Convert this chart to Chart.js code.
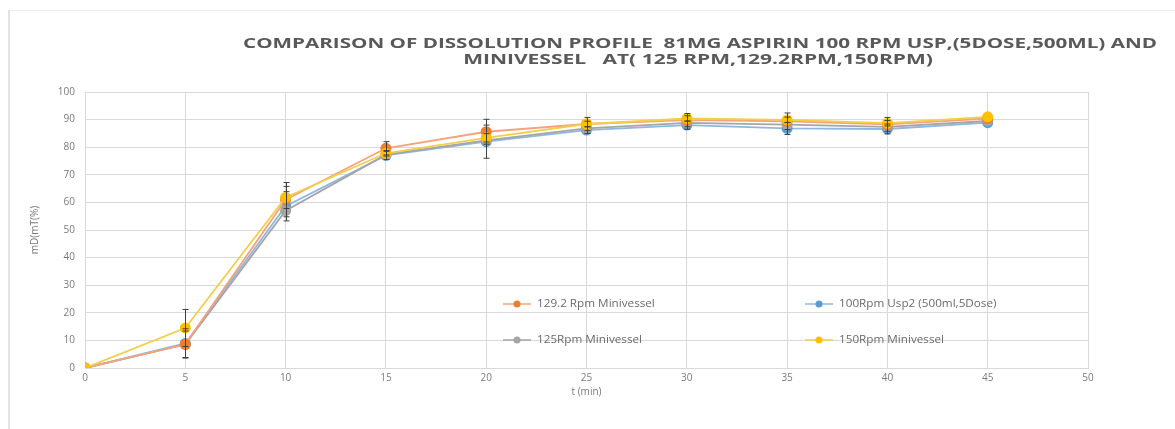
<!DOCTYPE html>
<html>
<head>
<meta charset="utf-8">
<script src="https://cdn.jsdelivr.net/npm/chart.js@4.4.1/dist/chart.umd.min.js"></script>
<style>
  html, body { margin: 0; padding: 0; background: #fff; }
  #wrap { position: relative; width: 1175px; height: 429px; }
  #frame { position: absolute; left: 8px; top: 10px; right: 0; bottom: 0; border-left: 2px solid #e3e3e3; border-top: 1px solid #ececec; }
</style>
</head>
<body>
<div id="wrap">
  <div id="frame"></div>
  <canvas id="myChart" width="1175" height="429" style="position:absolute;left:0;top:0"></canvas>
</div>
<script>
// time points (min)
var times = [0, 5, 10, 15, 20, 25, 30, 35, 40, 45];

// % dissolved for each run
var rpm129 = [0, 8.6, 61, 79.6, 85.6, 88.4, 89.8, 89.4, 88.3, 90.4];
var usp100 = [0, 8.9, 58.6, 77, 82, 86.2, 88, 86.8, 86.6, 88.9];
var rpm125 = [0, 8.5, 57, 77.3, 82.5, 86.8, 88.8, 88.2, 87.4, 89.5];
var rpm150 = [0, 14.5, 61.8, 77.8, 83.4, 88.4, 90.4, 89.9, 88.7, 91];

// standard deviations (error bars)
var rpm129Err = [0, 4.8, 6.2, 2.4, 4.5, 2.4, 2.4, 3, 2.5, 0];
var usp100Err = [0, 5.3, 5.3, 1.5, 6, 1.2, 1.5, 2.2, 1.8, 0];
var rpm150Err = [0, 6.7, 4, 1, 1.5, 1, 1, 1, 1, 0];

var titleLines = ['COMPARISON OF DISSOLUTION PROFILE  81MG ASPIRIN 100 RPM USP,(5DOSE,500ML) AND',
                  'MINIVESSEL   AT( 125 RPM,129.2RPM,150RPM)'];
var xTitle = 't (min)';
var yTitle = 'mD(mT(%)';

function pts(vals) {
  return vals.map(function (v, i) { return { x: times[i], y: v }; });
}

// error bars drawn with the chart's own scales
var errorBars = {
  id: 'errorBars',
  afterDatasetsDraw: function (chart) {
    var ctx = chart.ctx, xs = chart.scales.x, ys = chart.scales.y;
    ctx.save();
    ctx.strokeStyle = '#404040';
    ctx.lineWidth = 1;
    chart.data.datasets.forEach(function (ds) {
      if (!ds.errors) return;
      ds.data.forEach(function (p, i) {
        var e = ds.errors[i];
        if (!e) return;
        var px = Math.round(xs.getPixelForValue(p.x)) + 0.5;
        var top = ys.getPixelForValue(p.y + e), bot = ys.getPixelForValue(p.y - e);
        ctx.beginPath();
        ctx.moveTo(px, top); ctx.lineTo(px, bot);
        ctx.moveTo(px - 3, top); ctx.lineTo(px + 3, top);
        ctx.moveTo(px - 3, bot); ctx.lineTo(px + 3, bot);
        ctx.stroke();
      });
    });
    ctx.restore();
  }
};

// wide-looking text, as in the stretched original
function wideText(ctx, txt, x, y, sx) {
  ctx.save();
  ctx.translate(x, y);
  ctx.scale(sx, 1);
  ctx.fillText(txt, 0, 0);
  ctx.restore();
}

// title + legend inside the plot, drawn like the spreadsheet original
var extras = {
  id: 'extras',
  afterDraw: function (chart) {
    var ctx = chart.ctx;
    ctx.save();
    ctx.fillStyle = '#595959';
    ctx.font = 'bold 15px "Open Sans"';
    ctx.textAlign = 'center';
    ctx.textBaseline = 'middle';
    wideText(ctx, titleLines[0], 700, 44, 1.375);
    wideText(ctx, titleLines[1], 698, 60, 1.4);

    var spots = [[503, 304], [805, 304], [503, 340], [805, 340]];
    ctx.font = '10px "Open Sans"';
    ctx.textAlign = 'left';
    chart.data.datasets.forEach(function (ds, k) {
      var x = spots[k][0], y = spots[k][1];
      ctx.strokeStyle = ds.borderColor;
      ctx.lineWidth = 1.5;
      ctx.beginPath(); ctx.moveTo(x, y); ctx.lineTo(x + 28, y); ctx.stroke();
      ctx.fillStyle = ds.backgroundColor;
      ctx.beginPath(); ctx.arc(x + 14, y, 3.5, 0, Math.PI * 2); ctx.fill();
      ctx.fillStyle = '#6a6a6a';
      wideText(ctx, ds.label, x + 34, y, 1.17);
    });
    ctx.restore();
  }
};

var ctx = document.getElementById('myChart').getContext('2d');
new Chart(ctx, {
  type: 'line',
  data: {
    datasets: [
      { label: '129.2 Rpm Minivessel', data: pts(rpm129), errors: rpm129Err, borderColor: '#F4A37A', backgroundColor: '#ED7D31', order: 2 },
      { label: '100Rpm Usp2 (500ml,5Dose)', data: pts(usp100), errors: usp100Err, borderColor: '#8DB8E2', backgroundColor: '#5B9BD5', order: 4 },
      { label: '125Rpm Minivessel', data: pts(rpm125), borderColor: '#A5A5A5', backgroundColor: '#A5A5A5', order: 3 },
      { label: '150Rpm Minivessel', data: pts(rpm150), errors: rpm150Err, borderColor: '#F2CF4A', backgroundColor: '#FFC000', order: 1 }
    ]
  },
  options: {
    responsive: false,
    animation: false,
    layout: { padding: { left: 29, top: 92, right: 87, bottom: 31 } },
    elements: {
      line: { borderWidth: 1.8, tension: 0 },
      point: { radius: 5.5, borderWidth: 0, hoverRadius: 5.5 }
    },
    plugins: { legend: { display: false }, title: { display: false }, tooltip: { enabled: false } },
    scales: {
      x: {
        type: 'linear', min: 0, max: 50,
        ticks: { stepSize: 5, color: '#7a7a7a', font: { size: 10, family: '"Open Sans"' }, padding: 4 },
        grid: { color: '#d9d9d9', drawTicks: false },
        border: { color: '#d9d9d9' },
        title: { display: true, text: xTitle, color: '#7a7a7a', font: { size: 10, family: '"Open Sans"' }, padding: 0 },
        afterFit: function (s) { s.height = 30; }
      },
      y: {
        min: 0, max: 100,
        ticks: { stepSize: 10, color: '#7a7a7a', font: { size: 10, family: '"Open Sans"' }, padding: 10 },
        grid: { color: '#d9d9d9', drawTicks: false },
        border: { color: '#d9d9d9' },
        title: { display: true, text: yTitle, color: '#7a7a7a', font: { size: 10, family: '"Open Sans"' }, padding: 0 },
        afterFit: function (s) { s.width = 56; }
      }
    }
  },
  plugins: [errorBars, extras]
});
</script>
</body>
</html>
